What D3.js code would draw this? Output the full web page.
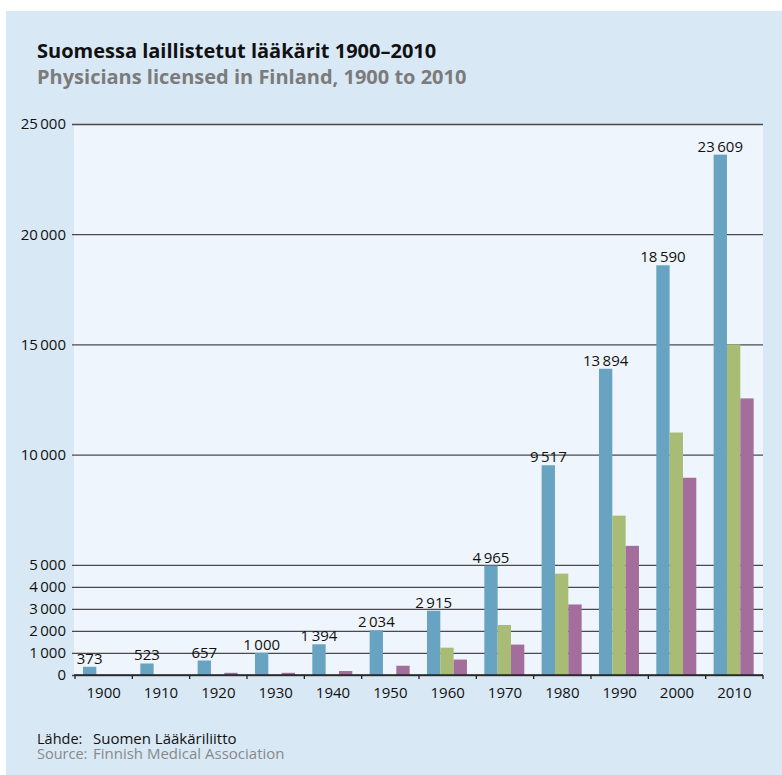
<!DOCTYPE html>
<html>
<head>
<meta charset="utf-8">
<script src="https://cdn.jsdelivr.net/npm/d3@7"></script>
<style>
  body { margin: 0; background: #fff; }
  text { font-family: "Open Sans", "Noto Sans", sans-serif; }
</style>
</head>
<body>
<div id="chart"></div>
<script>
// years and the three series (blue = all licensed, green and purple)
var years = ["1900", "1910", "1920", "1930", "1940", "1950", "1960", "1970", "1980", "1990", "2000", "2010"];
var blueVals = [373, 523, 657, 1000, 1394, 2034, 2915, 4965, 9517, 13894, 18590, 23609];
var greenVals = [0, 0, 0, 0, 0, 0, 1240, 2270, 4600, 7230, 11000, 15000];
var purpleVals = [0, 0, 100, 100, 180, 420, 700, 1380, 3200, 5860, 8950, 12550];
var seriesNames = ["blue", "green", "purple"];
var yTicks = [0, 1000, 2000, 3000, 4000, 5000, 10000, 15000, 20000, 25000];

var w = 782, h = 775;
var plotLeft = 74, plotRight = 763, plotTop = 124, plotBottom = 675;

var svg = d3.select("#chart").append("svg")
    .attr("width", w)
    .attr("height", h);

// outer panel + plot background
svg.append("rect").attr("x", 6).attr("y", 11).attr("width", w - 6).attr("height", h - 11).attr("fill", "#d9e8f5");
svg.append("rect").attr("x", plotLeft).attr("y", plotTop)
    .attr("width", plotRight - plotLeft).attr("height", plotBottom - plotTop)
    .attr("fill", "#eff5fc");

var fi = d3.formatLocale({decimal: ",", thousands: "\u2009", grouping: [3], currency: ["", " €"]});
var fmt = fi.format(",d");

var xOuter = d3.scaleBand()
    .domain(years)
    .range([plotLeft + 1, plotRight]);

var xInner = d3.scaleBand()
    .domain(seriesNames)
    .range([0, xOuter.bandwidth()])
    .paddingInner(0)
    .paddingOuter(0.65)
    .align(0.46);

var yScale = d3.scaleLinear()
    .domain([0, 25000])
    .range([plotBottom, plotTop]);

var color = d3.scaleOrdinal()
    .domain(seriesNames)
    .range(["#68a3c2", "#a8bc76", "#a36e9b"]);

// gridlines + y labels
var yAxis = d3.axisLeft(yScale)
    .tickValues(yTicks)
    .tickSize(-(plotRight - plotLeft + 2))
    .tickPadding(6)
    .tickFormat(function(d) { return fmt(d); });

var yg = svg.append("g")
    .attr("transform", "translate(" + (plotLeft - 2) + ",0)")
    .call(yAxis);
yg.select(".domain").remove();
yg.selectAll(".tick line").attr("stroke", "#4a4a4a").attr("stroke-width", 1.3);
yg.selectAll(".tick text").attr("font-size", 15).attr("fill", "#111")
    .style("font-family", "'Open Sans', sans-serif");

// bars
var rows = years.map(function(y, i) {
    return {year: y, vals: [
        {s: "blue", v: blueVals[i]},
        {s: "green", v: greenVals[i]},
        {s: "purple", v: purpleVals[i]}
    ]};
});

var groups = svg.selectAll("g.year")
    .data(rows)
    .enter()
    .append("g")
    .attr("class", "year")
    .attr("transform", function(d) { return "translate(" + xOuter(d.year) + ",0)"; });

groups.selectAll("rect")
    .data(function(d) { return d.vals.filter(function(e) { return e.v > 0; }); })
    .enter()
    .append("rect")
    .attr("x", function(d) { return xInner(d.s); })
    .attr("y", function(d) { return yScale(d.v); })
    .attr("width", xInner.bandwidth())
    .attr("height", function(d) { return plotBottom - yScale(d.v); })
    .attr("fill", function(d) { return color(d.s); });

// value labels on the blue bars
groups.append("text")
    .attr("x", xInner("blue") + xInner.bandwidth() / 2)
    .attr("y", function(d) { return yScale(d.vals[0].v) - 3; })
    .attr("text-anchor", "middle")
    .attr("font-size", 15)
    .attr("fill", "#111")
    .text(function(d) { return fmt(d.vals[0].v); });

// x axis
var xAxis = d3.axisBottom(xOuter).tickSize(0).tickPadding(12);
var xg = svg.append("g")
    .attr("transform", "translate(0," + plotBottom + ")")
    .call(xAxis);
xg.select(".domain").attr("d", "M" + plotLeft + ",0H" + plotRight).attr("stroke", "#222").attr("stroke-width", 1.3);
xg.selectAll(".tick text").attr("font-size", 15).attr("fill", "#111")
    .style("font-family", "'Open Sans', sans-serif");

// separators between years
svg.append("g").selectAll("line")
    .data(years.concat(["end"]))
    .enter()
    .append("line")
    .attr("x1", function(d, i) { return i < years.length ? xOuter(d) : plotRight; })
    .attr("x2", function(d, i) { return i < years.length ? xOuter(d) : plotRight; })
    .attr("y1", plotBottom)
    .attr("y2", plotBottom + 4)
    .attr("stroke", "#222")
    .attr("stroke-width", 1.3);

// titles
svg.append("text")
    .attr("x", 37).attr("y", 58)
    .attr("font-size", 20).attr("font-weight", "bold").attr("fill", "#111")
    .text("Suomessa laillistetut lääkärit 1900–2010");
svg.append("text")
    .attr("x", 37).attr("y", 84)
    .attr("font-size", 20).attr("font-weight", "bold").attr("fill", "#7b7b7b")
    .text("Physicians licensed in Finland, 1900 to 2010");

// source
svg.append("text").attr("x", 37).attr("y", 744).attr("font-size", 14.5).attr("fill", "#111").text("Lähde:");
svg.append("text").attr("x", 93).attr("y", 744).attr("font-size", 15).attr("fill", "#111").text("Suomen Lääkäriliitto");
svg.append("text").attr("x", 37).attr("y", 759).attr("font-size", 14.5).attr("fill", "#888").text("Source:");
svg.append("text").attr("x", 93).attr("y", 759).attr("font-size", 15).attr("fill", "#888").text("Finnish Medical Association");
</script>
</body>
</html>
